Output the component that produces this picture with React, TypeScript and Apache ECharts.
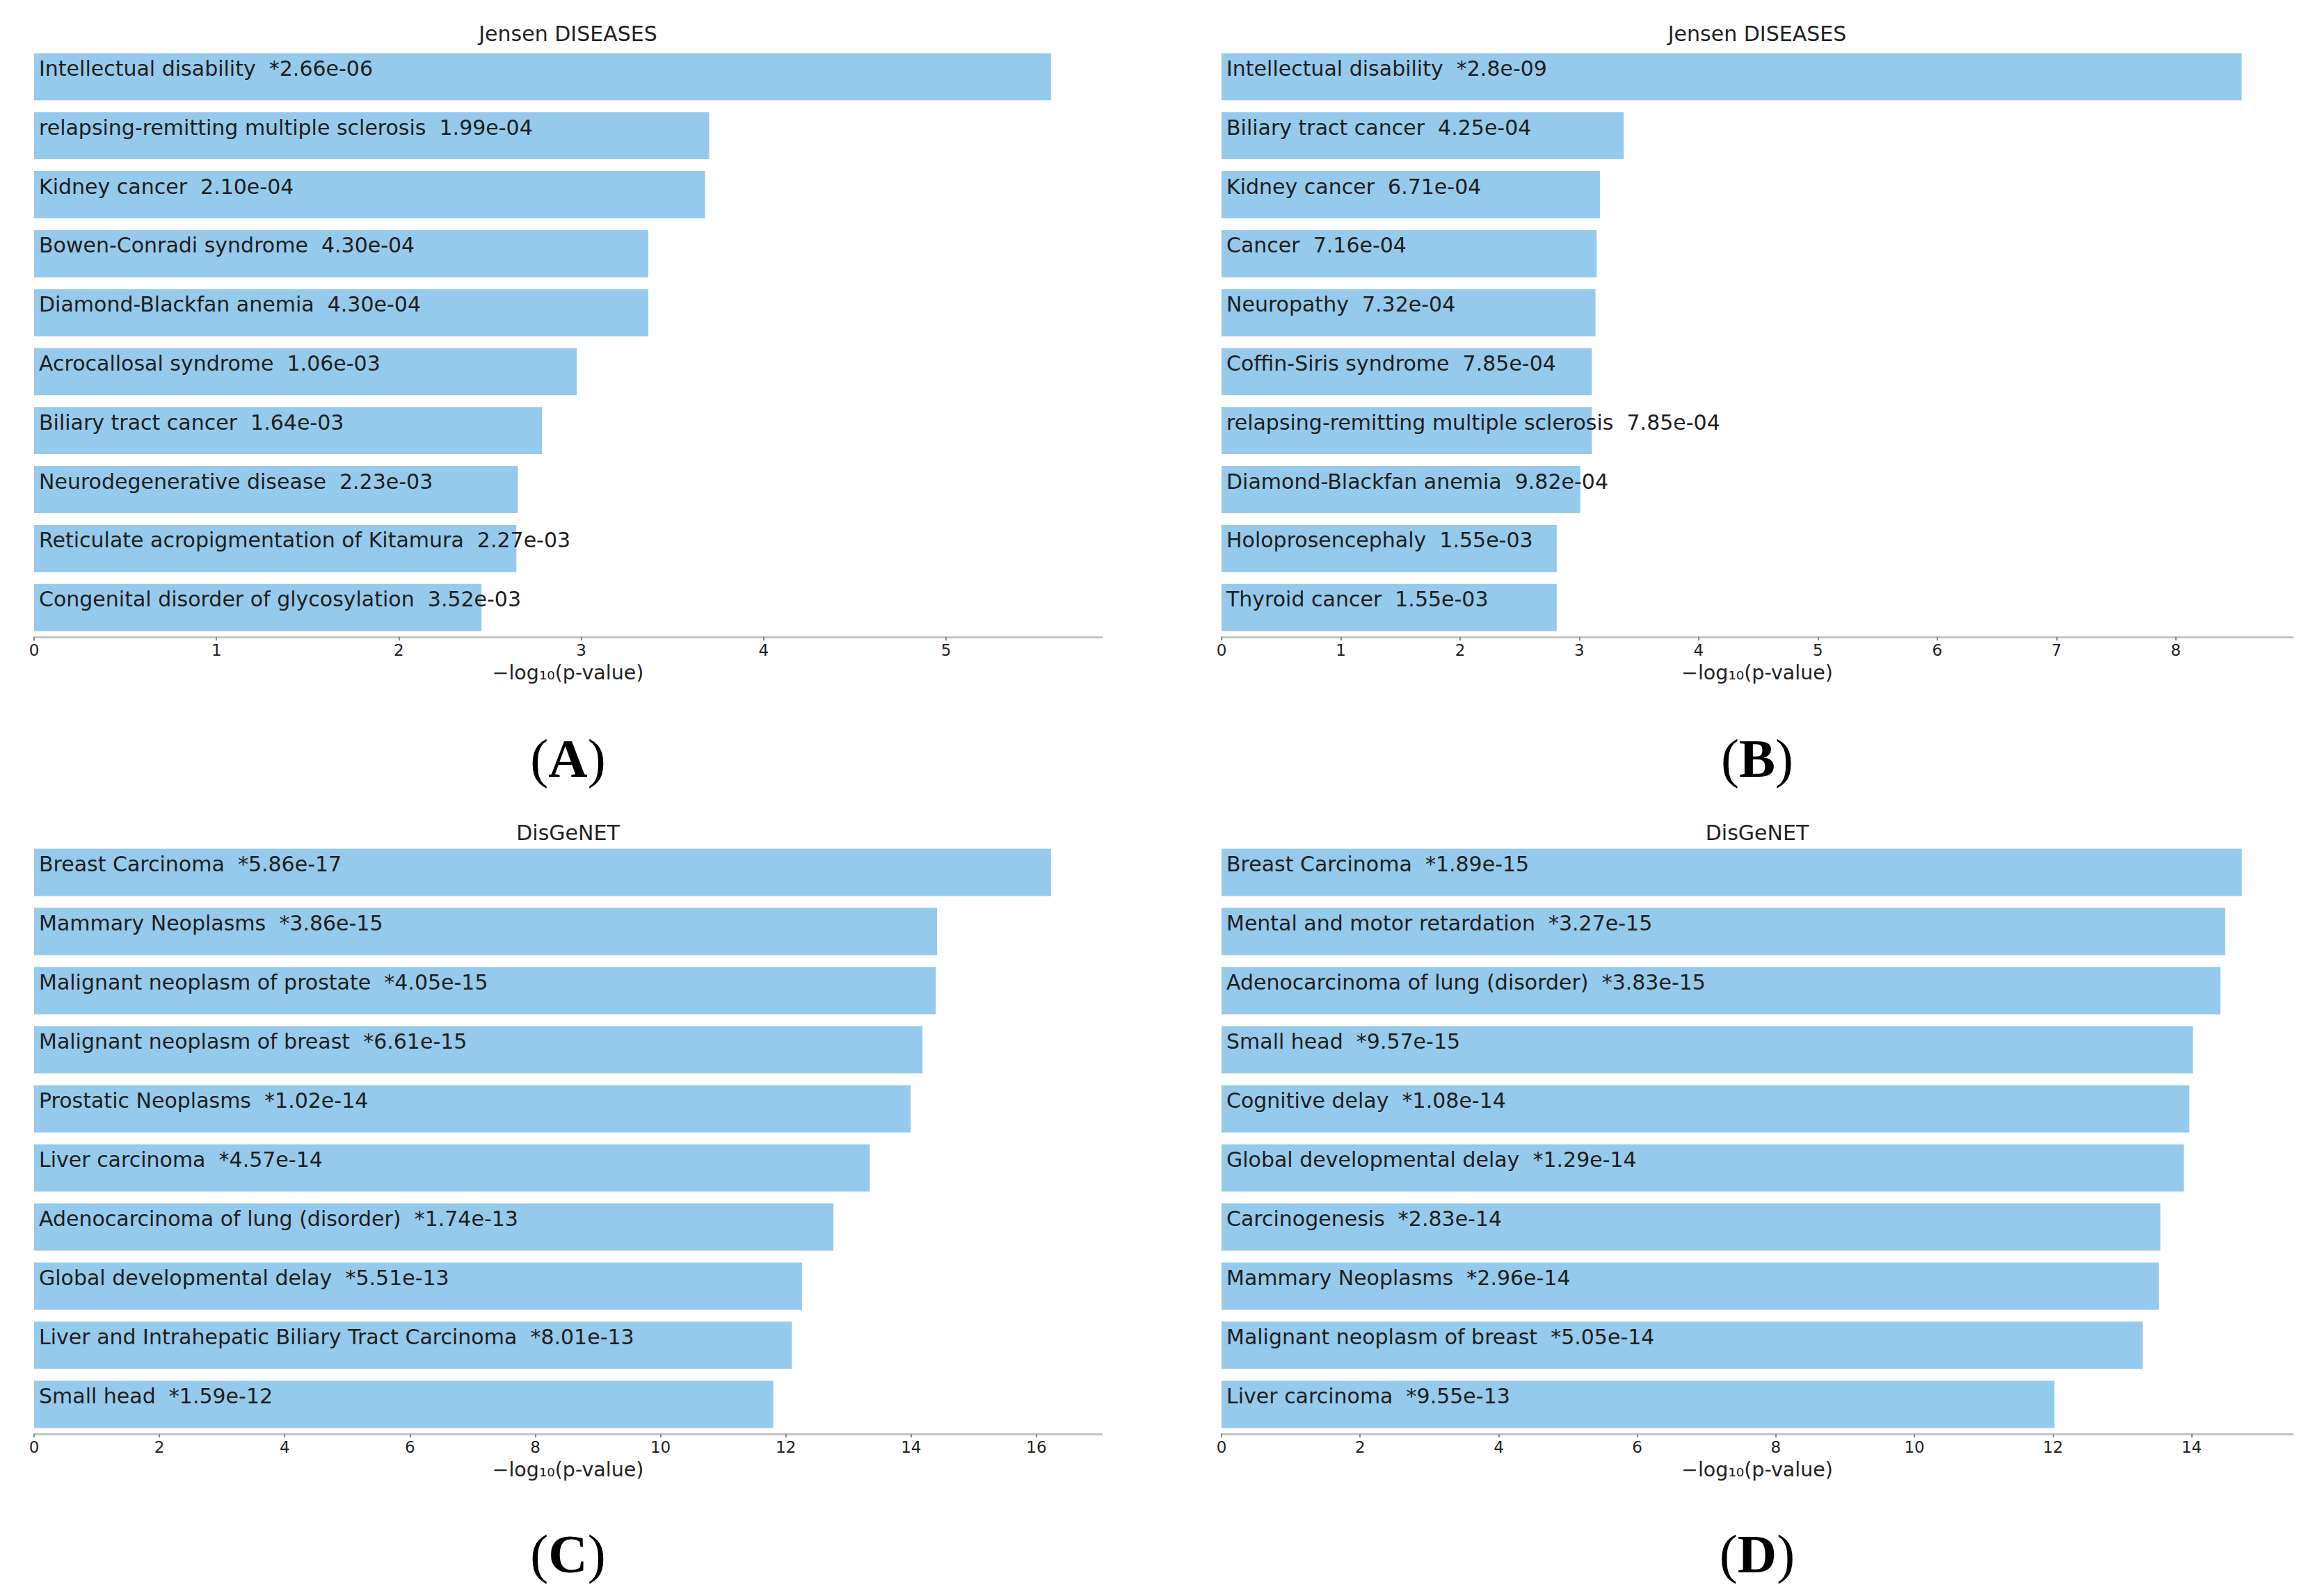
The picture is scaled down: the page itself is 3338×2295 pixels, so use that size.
import React, { useEffect, useRef } from "react";
import * as echarts from "echarts";

// ---------- data ----------
const aNames = [
  "Intellectual disability",
  "relapsing-remitting multiple sclerosis",
  "Kidney cancer",
  "Bowen-Conradi syndrome",
  "Diamond-Blackfan anemia",
  "Acrocallosal syndrome",
  "Biliary tract cancer",
  "Neurodegenerative disease",
  "Reticulate acropigmentation of Kitamura",
  "Congenital disorder of glycosylation",
];
const aPvals = ["*2.66e-06", "1.99e-04", "2.10e-04", "4.30e-04", "4.30e-04", "1.06e-03", "1.64e-03", "2.23e-03", "2.27e-03", "3.52e-03"];
const aScores = [5.575, 3.701, 3.678, 3.367, 3.367, 2.975, 2.785, 2.652, 2.644, 2.453];
const aTicks = [0, 1, 2, 3, 4, 5];
const aMax = 5.854;

const bNames = [
  "Intellectual disability",
  "Biliary tract cancer",
  "Kidney cancer",
  "Cancer",
  "Neuropathy",
  "Coffin-Siris syndrome",
  "relapsing-remitting multiple sclerosis",
  "Diamond-Blackfan anemia",
  "Holoprosencephaly",
  "Thyroid cancer",
];
const bPvals = ["*2.8e-09", "4.25e-04", "6.71e-04", "7.16e-04", "7.32e-04", "7.85e-04", "7.85e-04", "9.82e-04", "1.55e-03", "1.55e-03"];
const bScores = [8.553, 3.372, 3.173, 3.145, 3.135, 3.105, 3.105, 3.008, 2.81, 2.81];
const bTicks = [0, 1, 2, 3, 4, 5, 6, 7, 8];
const bMax = 8.981;

const cNames = [
  "Breast Carcinoma",
  "Mammary Neoplasms",
  "Malignant neoplasm of prostate",
  "Malignant neoplasm of breast",
  "Prostatic Neoplasms",
  "Liver carcinoma",
  "Adenocarcinoma of lung (disorder)",
  "Global developmental delay",
  "Liver and Intrahepatic Biliary Tract Carcinoma",
  "Small head",
];
const cPvals = ["*5.86e-17", "*3.86e-15", "*4.05e-15", "*6.61e-15", "*1.02e-14", "*4.57e-14", "*1.74e-13", "*5.51e-13", "*8.01e-13", "*1.59e-12"];
const cScores = [16.232, 14.413, 14.393, 14.18, 13.991, 13.34, 12.759, 12.259, 12.096, 11.799];
const cTicks = [0, 2, 4, 6, 8, 10, 12, 14, 16];
const cMax = 17.044;

const dNames = [
  "Breast Carcinoma",
  "Mental and motor retardation",
  "Adenocarcinoma of lung (disorder)",
  "Small head",
  "Cognitive delay",
  "Global developmental delay",
  "Carcinogenesis",
  "Mammary Neoplasms",
  "Malignant neoplasm of breast",
  "Liver carcinoma",
];
const dPvals = ["*1.89e-15", "*3.27e-15", "*3.83e-15", "*9.57e-15", "*1.08e-14", "*1.29e-14", "*2.83e-14", "*2.96e-14", "*5.05e-14", "*9.55e-13"];
const dScores = [14.724, 14.485, 14.417, 14.019, 13.967, 13.889, 13.548, 13.529, 13.297, 12.02];
const dTicks = [0, 2, 4, 6, 8, 10, 12, 14];
const dMax = 15.46;

const titles = ["Jensen DISEASES", "Jensen DISEASES", "DisGeNET", "DisGeNET"];
const panelLetters = ["A", "B", "C", "D"];
const axisTitle = "\u2212log\u2081\u2080(p-value)";

// ---------- layout / style ----------
const FONT = "DejaVu Sans";
const BAR_COLOR = "#96CAEC";
const grids = [
  { left: 49, top: 68, width: 1535, height: 848 },
  { left: 1756, top: 68, width: 1540, height: 848 },
  { left: 49, top: 1212, width: 1535, height: 850 },
  { left: 1756, top: 1212, width: 1540, height: 850 },
];
const titleY = [48, 48, 1197, 1197];
const letterY = [1090, 1090, 2234, 2234];

const panels = [
  { names: aNames, pvals: aPvals, scores: aScores, ticks: aTicks, max: aMax },
  { names: bNames, pvals: bPvals, scores: bScores, ticks: bTicks, max: bMax },
  { names: cNames, pvals: cPvals, scores: cScores, ticks: cTicks, max: cMax },
  { names: dNames, pvals: dPvals, scores: dScores, ticks: dTicks, max: dMax },
];

function buildOption() {
  const xAxis: any[] = [];
  const yAxis: any[] = [];
  const series: any[] = [];
  const graphic: any[] = [];
  panels.forEach((p, i) => {
    xAxis.push({
      type: "value",
      gridIndex: i,
      min: 0,
      max: p.max,
      axisLine: { show: true, lineStyle: { color: "#c4c4c4", width: 3 } },
      axisTick: { show: true, customValues: p.ticks, length: 5, lineStyle: { color: "#888", width: 2 } },
      axisLabel: { customValues: p.ticks, fontFamily: FONT, fontSize: 23, color: "#222", margin: 7 },
      splitLine: { show: false },
      name: axisTitle,
      nameLocation: "middle",
      nameGap: 37,
      nameTextStyle: { fontFamily: FONT, fontSize: 28.5, color: "#222" },
    });
    yAxis.push({
      type: "category",
      gridIndex: i,
      data: p.names,
      inverse: true,
      axisLine: { show: false },
      axisTick: { show: false },
      axisLabel: { show: false },
      splitLine: { show: false },
    });
    series.push({
      type: "bar",
      xAxisIndex: i,
      yAxisIndex: i,
      data: p.scores,
      barCategoryGap: "20%",
      silent: true,
      itemStyle: { color: BAR_COLOR },
      label: {
        show: true,
        position: [7, "50%"],
        align: "left",
        verticalAlign: "middle",
        offset: [0, -12],
        formatter: (prm: any) => p.names[prm.dataIndex] + "  " + p.pvals[prm.dataIndex],
        fontFamily: FONT,
        fontSize: 30,
        color: "#1e1e1e",
      },
    });
    const g = grids[i];
    graphic.push({
      type: "text",
      x: g.left + g.width / 2,
      y: titleY[i],
      style: {
        text: titles[i],
        fontFamily: FONT,
        fontSize: 30,
        fill: "#222",
        align: "center",
        verticalAlign: "middle",
      },
    });
    graphic.push({
      type: "text",
      x: g.left + g.width / 2,
      y: letterY[i],
      style: {
        text: "{p|(}{b|" + panelLetters[i] + "}{p|)}",
        align: "center",
        verticalAlign: "middle",
        rich: {
          p: { fontFamily: "Liberation Serif", fontSize: 78, fill: "#000" },
          b: { fontFamily: "Liberation Serif", fontSize: 78, fontWeight: "bold", fill: "#000" },
        },
      },
    });
  });
  return {
    animation: false,
    backgroundColor: "#ffffff",
    grid: grids,
    xAxis,
    yAxis,
    series,
    graphic,
  };
}

export default function App() {
  const ref = useRef<HTMLDivElement>(null);
  useEffect(() => {
    if (!ref.current) return;
    const chart = echarts.init(ref.current, null, { renderer: "svg" });
    chart.setOption(buildOption());
    return () => chart.dispose();
  }, []);
  return (
    <div
      ref={ref}
      style={{ position: "absolute", left: 0, top: 0, width: 3338, height: 2295, background: "#fff" }}
    />
  );
}
